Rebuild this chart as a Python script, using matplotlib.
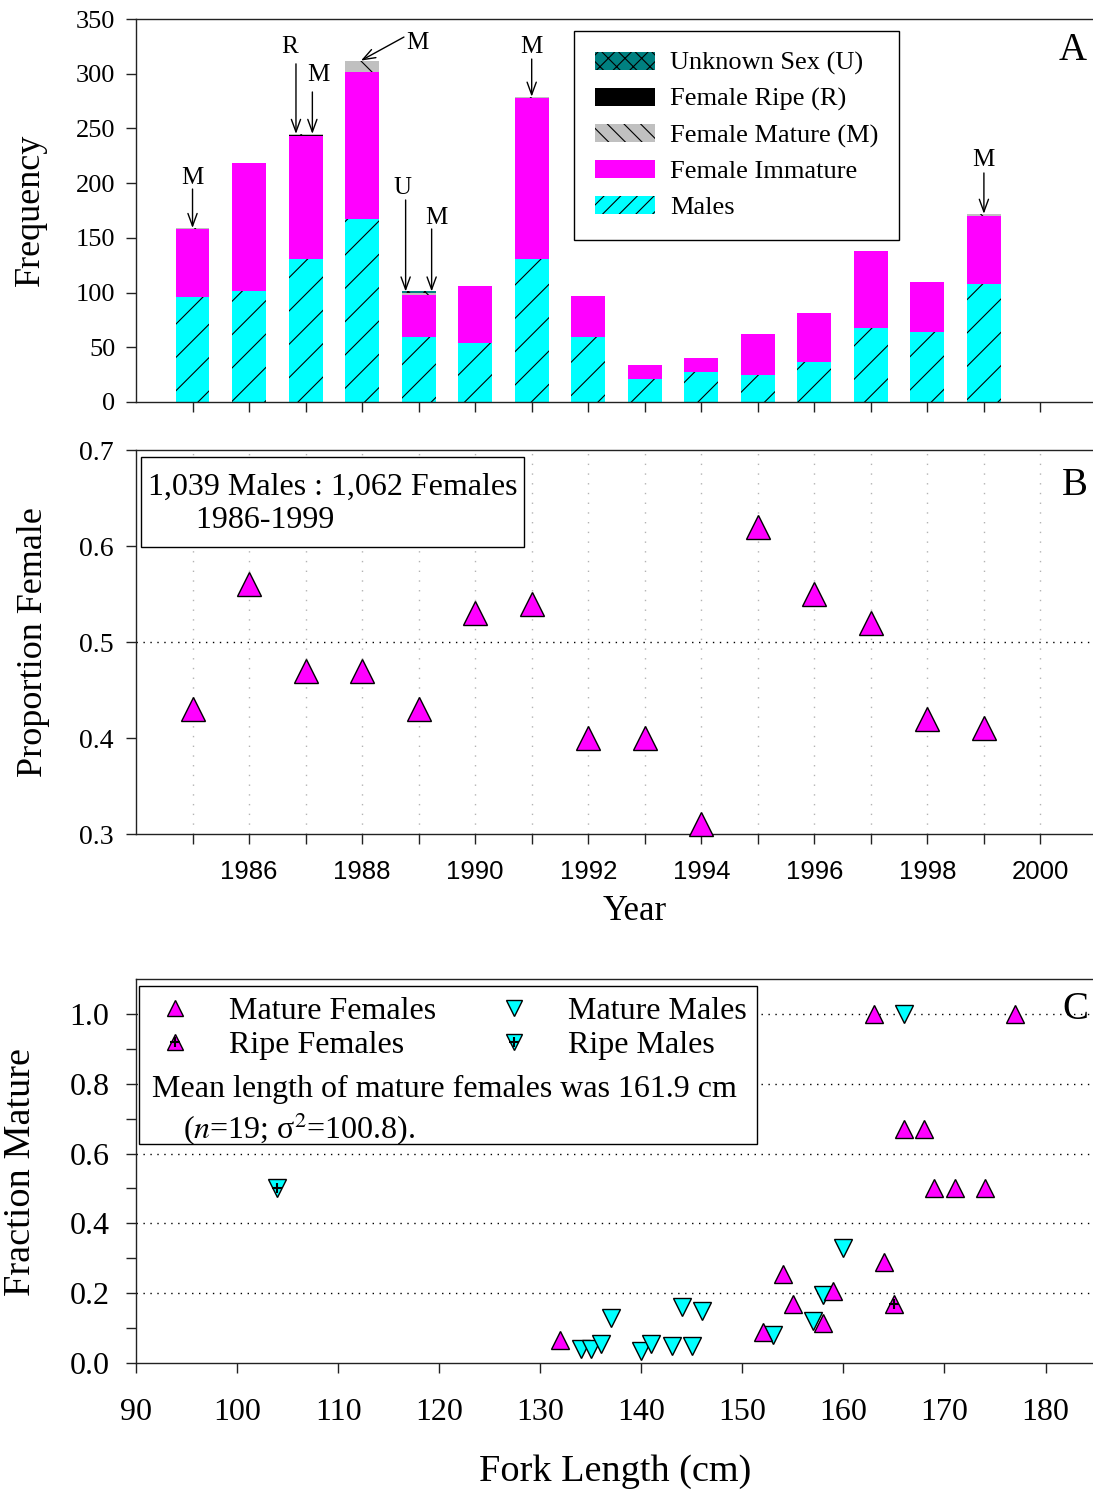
import matplotlib
matplotlib.use("Agg")
import matplotlib.pyplot as plt
import numpy as np
from matplotlib.patches import Patch, Rectangle
from matplotlib.lines import Line2D

plt.rcParams['font.family'] = ['Liberation Serif', 'DejaVu Serif']
plt.rcParams['mathtext.fontset'] = 'stix'
plt.rcParams['hatch.linewidth'] = 0.8
plt.rcParams['hatch.color'] = 'black'

# ---- panel A: catch composition by year
years = np.arange(1985, 2000)
males = [96, 101, 131, 167, 59, 54, 131, 59, 21, 27, 25, 37, 68, 64, 108]
fem_immature = [62, 117, 112, 135, 39, 52, 147, 38, 13, 13, 37, 44, 70, 46, 62]
fem_mature = [1, 0, 1, 10, 2, 0, 1, 0, 0, 0, 0, 0, 0, 0, 2]
fem_ripe = [0, 0, 1, 0, 0, 0, 0, 0, 0, 0, 0, 0, 0, 0, 0]
unknown_sex = [0, 0, 0, 0, 1, 0, 0, 0, 0, 0, 0, 0, 0, 0, 0]

# ---- panel B: proportion female
prop_female = [0.43, 0.56, 0.47, 0.47, 0.43, 0.53, 0.54, 0.40, 0.40, 0.31,
               0.62, 0.55, 0.52, 0.42, 0.41]

# ---- panel C: fraction mature by fork length
mf_len = [132, 152, 154, 155, 158, 159, 163, 164, 166, 168, 169, 171, 174, 177]
mf_frac = [0.065, 0.09, 0.255, 0.17, 0.115, 0.205, 1.0, 0.29, 0.67, 0.67,
           0.5, 0.5, 0.5, 1.0]
rf_len = [165]
rf_frac = [0.17]
mm_len = [134, 135, 136, 137, 140, 141, 143, 144, 145, 146, 153, 157, 158, 160, 166]
mm_frac = [0.04, 0.04, 0.055, 0.13, 0.035, 0.055, 0.05, 0.16, 0.05, 0.15,
           0.08, 0.12, 0.195, 0.33, 1.0]
rm_len = [104]
rm_frac = [0.5]

W, H = 1093, 1492
fig = plt.figure(figsize=(W / 100, H / 100), dpi=100)


def px_axes(left, top, right, bottom):
    return fig.add_axes([left / W, 1 - bottom / H, (right - left) / W, (bottom - top) / H])


def style_axes(ax):
    ax.spines['right'].set_visible(False)
    for s in ['left', 'bottom', 'top']:
        ax.spines[s].set_linewidth(1.0)
        ax.spines[s].set_color('#222222')
    ax.tick_params(which='both', direction='out', length=7, width=1, color='#222222',
                   top=False, right=False)


MAGENTA = '#FF00FF'
CYAN = '#00FFFF'

# ================= A =================
axA = px_axes(136, 19, 1093, 402)
style_axes(axA)
stack = [
    (males, CYAN, '/'),
    (fem_immature, MAGENTA, None),
    (fem_ripe, 'black', None),
    (fem_mature, '#C0C0C0', '\\'),
    (unknown_sex, '#008080', 'xx'),
]
base = np.zeros(len(years))
for vals, fc, hatch in stack:
    vals = np.asarray(vals, dtype=float)
    axA.bar(years, vals, width=0.6, bottom=base, facecolor=fc, hatch=hatch,
            linewidth=0, zorder=2)
    base = base + vals
totals = dict(zip(years, base))

axA.set_xlim(1984, 2000.93)
axA.set_ylim(0, 350)
axA.set_xticks(np.arange(1985, 2001))
axA.set_xticklabels([])
axA.set_yticks(np.arange(0, 351, 50))
axA.tick_params(axis='y', labelsize=19, pad=8)

# letter, letter position, arrow start (x, y), arrow tip year
notes = [
    ('M', (1985.0, 204.7), (1985.0, 194.6), 1985.0, 1985),
    ('R', (1986.72, 324.4), (1986.83, 309.0), 1986.83, 1987),
    ('M', (1987.22, 298.8), (1987.12, 283.3), 1987.12, 1987),
    ('M', (1988.97, 328.1), (1988.74, 333.5), 1987.98, 1988),
    ('U', (1988.72, 195.4), (1988.77, 184.6), 1988.77, 1989),
    ('M', (1989.32, 168.1), (1989.23, 158.1), 1989.23, 1989),
    ('M', (1991.0, 324.4), (1991.0, 313.4), 1991.0, 1991),
    ('M', (1999.0, 221.1), (1999.0, 209.3), 1999.0, 1999),
]
for letter, txy, start, tipx, yr in notes:
    axA.text(txy[0], txy[1], letter, ha='center', va='center', fontsize=18)
    axA.annotate('', xy=(tipx, totals[yr]), xytext=start,
                 arrowprops=dict(arrowstyle='->, head_length=0.6, head_width=0.22',
                                 lw=1, color='black', shrinkA=0, shrinkB=0,
                                 mutation_scale=15))

handlesA = [
    Patch(facecolor='#008080', hatch='xx', linewidth=0, label='Unknown Sex (U)'),
    Patch(facecolor='black', linewidth=0, label='Female Ripe (R)'),
    Patch(facecolor='#C0C0C0', hatch='\\\\', linewidth=0, label='Female Mature (M)'),
    Patch(facecolor=MAGENTA, linewidth=0, label='Female Immature'),
    Patch(facecolor=CYAN, hatch='//', linewidth=0, label='Males'),
]
legA = axA.legend(handles=handlesA, loc='upper left', bbox_to_anchor=(0.4577, 0.9687),
                  fontsize=19, frameon=True, fancybox=False, edgecolor='black',
                  framealpha=1, handlelength=2.3, handleheight=0.68,
                  handletextpad=0.55, labelspacing=0.47, borderpad=0.78,
                  borderaxespad=0)
legA.get_frame().set_linewidth(1.0)
axA.text(0.993, 0.893, 'A', transform=axA.transAxes, ha='right', va='baseline',
         fontsize=28)

# ================= B =================
axB = px_axes(136, 450, 1093, 834)
style_axes(axB)
axB.vlines(np.arange(1985, 2001), 0.3, 0.7, colors='0.7', linestyles=(0, (1, 6)),
           linewidth=1, zorder=1)
axB.axhline(0.5, color='black', linestyle=(0, (1, 4)), linewidth=1, zorder=1)
axB.plot(years, prop_female, linestyle='none', marker='^', ms=17,
         mfc=MAGENTA, mec='black', mew=1, zorder=3, clip_on=False)
axB.set_xlim(1984, 2000.93)
axB.set_ylim(0.3, 0.7)
axB.set_yticks(np.arange(0.3, 0.71, 0.1))
axB.set_yticklabels(['0.3', '0.4', '0.5', '0.6', '0.7'])
axB.set_xticks(np.arange(1986, 2001, 2))
axB.set_xticks(np.arange(1985, 2001, 2), minor=True)
axB.tick_params(axis='y', labelsize=20, pad=9)
axB.tick_params(axis='x', labelsize=18.5, pad=12)
for lab in axB.get_xticklabels():
    lab.set_fontfamily('Liberation Sans')
axB.add_patch(Rectangle((0.0052, 0.7474), 0.4002, 0.2344, transform=axB.transAxes,
                        facecolor='white', edgecolor='black', lw=1, zorder=4))
axB.text(0.0125, 0.94, '1,039 Males : 1,062 Females\n      1986-1999',
         transform=axB.transAxes, ha='left', va='top', fontsize=23, linespacing=1.2,
         zorder=5)
axB.text(0.995, 0.883, 'B', transform=axB.transAxes, ha='right', va='baseline',
         fontsize=28)

# ================= C =================
axC = px_axes(136, 979, 1093, 1363)
style_axes(axC)
for yv in [0.2, 0.4, 0.6, 0.8, 1.0]:
    axC.axhline(yv, color='black', linestyle=(0, (1, 4)), linewidth=1, zorder=1)
axC.add_patch(Rectangle((0.003, 0.570), 0.646, 0.412, transform=axC.transAxes,
                        facecolor='white', edgecolor='black', lw=1, zorder=2))

tri = dict(linestyle='none', ms=12.5, mec='black', mew=1, zorder=3, clip_on=False)
axC.plot(mm_len, mm_frac, marker='v', mfc=CYAN, **tri)
axC.plot(mf_len, mf_frac, marker='^', mfc=MAGENTA, **tri)
axC.plot(rf_len, rf_frac, marker='^', mfc=MAGENTA, **tri)
axC.plot(rf_len, rf_frac, linestyle='none', marker='+', ms=7, mec='black', mew=1.5, zorder=4)
axC.plot(rm_len, rm_frac, marker='v', mfc=CYAN, **tri)
axC.plot(rm_len, rm_frac, linestyle='none', marker='+', ms=7, mec='black', mew=1.5, zorder=4)

axC.set_xlim(90, 184.7)
axC.set_ylim(0, 1.1)
axC.set_xticks(np.arange(90, 181, 10))
axC.set_yticks(np.arange(0, 1.01, 0.2))
axC.set_yticklabels(['0.0', '0.2', '0.4', '0.6', '0.8', '1.0'])
axC.set_yticks(np.arange(0.1, 1.0, 0.2), minor=True)
axC.tick_params(axis='y', labelsize=23, pad=12)
axC.tick_params(axis='x', labelsize=23, pad=18)

hk = dict(linestyle='none', ms=12, mec='black', mew=1)
plus = Line2D([], [], linestyle='none', marker='+', ms=7, mec='black', mew=1.5)
h_mf = Line2D([], [], marker='^', mfc=MAGENTA, **hk)
h_mm = Line2D([], [], marker='v', mfc=CYAN, **hk)
legC = axC.legend([h_mf, (h_mf, plus), h_mm, (h_mm, plus)],
                  ['Mature Females', 'Ripe Females', 'Mature Males', 'Ripe Males'],
                  ncol=2, loc='upper left', bbox_to_anchor=(0.024, 0.953),
                  fontsize=23, frameon=False, handlelength=1.0, handletextpad=1.19,
                  columnspacing=1.94, labelspacing=0.13, borderpad=0, borderaxespad=0)
legC.set_zorder(5)
axC.text(0.0167, 0.712, 'Mean length of mature females was 161.9 cm',
         transform=axC.transAxes, ha='left', va='center', fontsize=23, zorder=5)
axC.text(0.049, 0.608, '($\\mathit{n}$=19; σ$^{2}$=100.8).',
         transform=axC.transAxes, ha='left', va='center', fontsize=23, zorder=5)
axC.text(0.995, 0.896, 'C', transform=axC.transAxes, ha='right', va='baseline',
         fontsize=28)

# axis titles
fig.text(30 / W, 1 - 210 / H, 'Frequency', rotation=90, ha='center', va='center', fontsize=26)
fig.text(34 / W, 1 - 642 / H, 'Proportion Female', rotation=90, ha='center', va='center',
         fontsize=26)
fig.text(635 / W, 1 - 912 / H, 'Year', ha='center', va='center', fontsize=25)
fig.text(21 / W, 1 - 1172 / H, 'Fraction Mature', rotation=90, ha='center', va='center',
         fontsize=27.5)
fig.text(615 / W, 1 - 1472 / H, 'Fork Length (cm)', ha='center', va='center', fontsize=27.5)

fig.savefig('out.png', dpi=100)
